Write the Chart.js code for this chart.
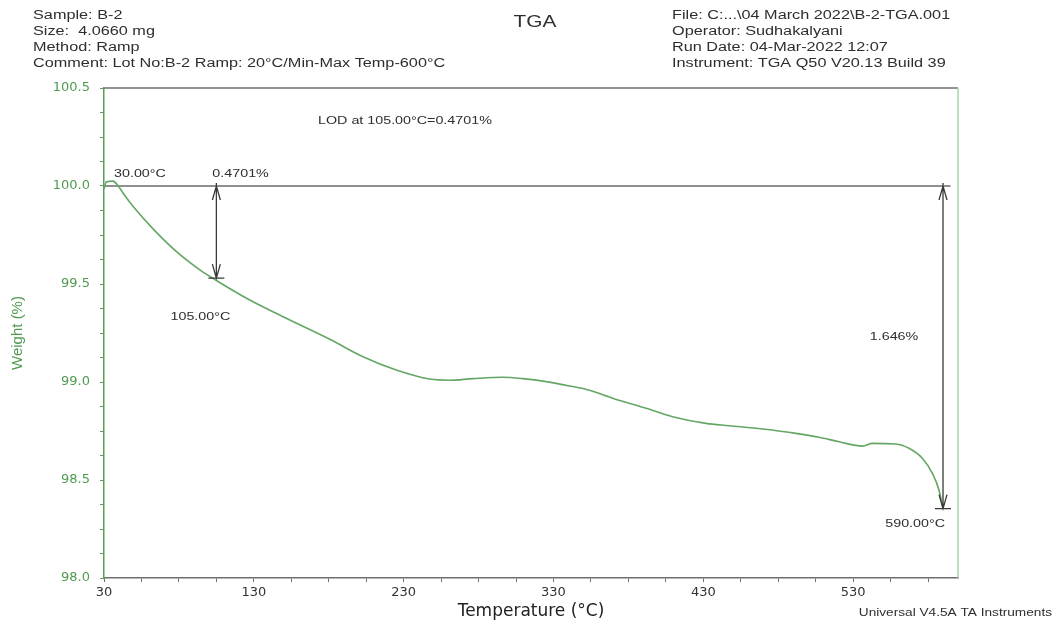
<!DOCTYPE html>
<html>
<head>
<meta charset="utf-8">
<script src="https://cdn.jsdelivr.net/npm/chart.js@4.4.1/dist/chart.umd.min.js"></script>
<style>
html, body { margin: 0; padding: 0; background: #fff; }
</style>
</head>
<body>
<canvas id="tga-chart" width="1056" height="626"></canvas>
<script>
// TGA curve (temperature in °C, weight in %)
var tempList = [30, 31.5, 36, 39, 43.5, 49.6, 62.9, 78.4, 94, 105, 127.3, 149.5, 180.7, 202.9, 225.1, 247.3, 260.7, 276.2, 296.2, 309.6, 325.1, 340.7, 354, 369.5, 391.8, 409.5, 431.8, 447.3, 469.5, 491.8, 507.3, 520.7, 536.2, 542.9, 558.4, 567.3, 576.2, 582.9, 587.3, 590];
var weightList = [99.985, 100.02, 100.025, 100.005, 99.955, 99.894, 99.78, 99.665, 99.572, 99.518, 99.418, 99.333, 99.218, 99.129, 99.061, 99.015, 99.009, 99.017, 99.024, 99.017, 99.002, 98.980, 98.958, 98.917, 98.866, 98.823, 98.789, 98.777, 98.760, 98.738, 98.718, 98.695, 98.673, 98.687, 98.684, 98.662, 98.611, 98.534, 98.449, 98.354];

// 100 % reference line
var refTemp = [30, 595];
var refWeight = [100, 100];

// weight loss steps
var stepTemps = [105, 590];
var stepFrom = [100.0, 100.0];
var stepLoss = [0.4701, 1.646];

// axes
var xMin = 30, xMax = 600, xMinorStep = 25;
var xMajor = [30, 130, 230, 330, 430, 530];
var yMin = 98.0, yMax = 100.5, yMinorStep = 0.125;
var yMajor = [98.0, 98.5, 99.0, 99.5, 100.0, 100.5];

var headerLeft = ['Sample: B-2', 'Size:  4.0660 mg', 'Method: Ramp', 'Comment: Lot No:B-2 Ramp: 20°C/Min-Max Temp-600°C'];
var headerRight = ['File: C:...\\04 March 2022\\B-2-TGA.001', 'Operator: Sudhakalyani', 'Run Date: 04-Mar-2022 12:07', 'Instrument: TGA Q50 V20.13 Build 39'];

var green = '#5b9c5b';
var textCol = '#2e2e2e';

var xTickValues = [];
for (var t = xMin; t < xMax; t += xMinorStep) xTickValues.push(t);
var yTickValues = [];
for (var w = yMin; w <= yMax + 1e-9; w += yMinorStep) yTickValues.push(Math.round(w * 1000) / 1000);

// the original print is stretched sideways, so the text is too
function drawText(ctx, str, x, y, size, align, color) {
	var stretch = 1.3;
	ctx.save();
	ctx.font = size + 'px "Liberation Sans", Arial, sans-serif';
	ctx.fillStyle = color || textCol;
	ctx.textBaseline = 'middle';
	ctx.textAlign = 'left';
	var w = ctx.measureText(str).width * stretch;
	var left = x;
	if (align === 'center') left = x - w / 2;
	if (align === 'right') left = x - w;
	ctx.translate(left, y);
	ctx.scale(stretch, 1);
	ctx.fillText(str, 0, 0);
	ctx.restore();
}

function drawArrow(ctx, x, yTop, yBot) {
	ctx.beginPath();
	ctx.moveTo(x, yTop);
	ctx.lineTo(x, yBot);
	// heads
	ctx.moveTo(x - 4, yTop + 14); ctx.lineTo(x, yTop); ctx.lineTo(x + 4, yTop + 14);
	ctx.moveTo(x - 4, yBot - 14); ctx.lineTo(x, yBot); ctx.lineTo(x + 4, yBot - 14);
	// bars at both ends
	ctx.moveTo(x - 8, yBot); ctx.lineTo(x + 8, yBot);
	ctx.moveTo(x, yTop - 3); ctx.lineTo(x, yTop);
	ctx.stroke();
}

var annotations = {
	id: 'annotations',
	afterDatasetsDraw: function(chart) {
		var ctx = chart.ctx;
		var area = chart.chartArea;
		var xs = chart.scales.x, ys = chart.scales.y;

		// frame: top and right
		ctx.save();
		ctx.lineWidth = 1.5;
		ctx.strokeStyle = '#707070';
		ctx.beginPath();
		ctx.moveTo(area.left, area.top);
		ctx.lineTo(area.right, area.top);
		ctx.stroke();
		ctx.strokeStyle = '#a9d4a9';
		ctx.beginPath();
		ctx.moveTo(area.right, area.top);
		ctx.lineTo(area.right, area.bottom);
		ctx.stroke();

		// step arrows
		ctx.strokeStyle = '#3a3a3a';
		ctx.lineWidth = 1.3;
		for (var i = 0; i < stepTemps.length; i++) {
			var px = xs.getPixelForValue(stepTemps[i]);
			var yTop = ys.getPixelForValue(stepFrom[i]);
			var yBot = ys.getPixelForValue(stepFrom[i] - stepLoss[i]);
			drawArrow(ctx, px, yTop, yBot);
		}
		ctx.restore();

		// labels
		var x0 = xs.getPixelForValue(tempList[0]);
		var yRef = ys.getPixelForValue(refWeight[0]);
		drawText(ctx, tempList[0].toFixed(2) + '°C', x0 + 10, yRef - 12, 11);

		var a1 = xs.getPixelForValue(stepTemps[0]);
		var b1 = ys.getPixelForValue(stepFrom[0] - stepLoss[0]);
		drawText(ctx, stepLoss[0].toFixed(4) + '%', a1 - 4, yRef - 12, 11);
		drawText(ctx, stepTemps[0].toFixed(2) + '°C', a1 - 16, b1 + 39, 11, 'center');

		var a2 = xs.getPixelForValue(stepTemps[1]);
		var b2 = ys.getPixelForValue(stepFrom[1] - stepLoss[1]);
		drawText(ctx, stepLoss[1].toFixed(3) + '%', a2 - 49, ys.getPixelForValue(99.23), 11, 'center');
		drawText(ctx, stepTemps[1].toFixed(2) + '°C', a2 + 2, b2 + 15, 11, 'right');

		drawText(ctx, 'LOD at ' + stepTemps[0].toFixed(2) + '°C=' + stepLoss[0].toFixed(4) + '%', 318, 121, 11);

		// header
		drawText(ctx, 'TGA', 535, 23, 16, 'center');
		for (var j = 0; j < headerLeft.length; j++) {
			drawText(ctx, headerLeft[j], 33, 16 + j * 16, 12.5);
			drawText(ctx, headerRight[j], 672, 16 + j * 16, 12.5);
		}
		drawText(ctx, 'Universal V4.5A TA Instruments', 1052, 613, 10.5, 'right');
	}
};

var ctx = document.getElementById('tga-chart').getContext('2d');
var tgaChart = new Chart(ctx, {
	type: 'line',
	data: {
		datasets: [
			{
				label: 'Weight',
				data: tempList.map(function(t, i) { return { x: t, y: weightList[i] }; }),
				borderColor: '#64a664',
				borderWidth: 1.6,
				pointRadius: 0,
				cubicInterpolationMode: 'monotone',
				fill: false
			},
			{
				label: '100%',
				data: refTemp.map(function(t, i) { return { x: t, y: refWeight[i] }; }),
				borderColor: '#6a6a6a',
				borderWidth: 1.5,
				pointRadius: 0,
				fill: false
			}
		]
	},
	options: {
		responsive: false,
		animation: false,
		layout: { padding: { top: 88, right: 98, left: 0, bottom: 0 } },
		plugins: {
			legend: { display: false },
			tooltip: { enabled: false }
		},
		scales: {
			x: {
				type: 'linear',
				min: xMin,
				max: xMax,
				afterBuildTicks: function(scale) {
					scale.ticks = xTickValues.map(function(v) { return { value: v }; });
				},
				afterFit: function(scale) { scale.height = 48; },
				border: { color: '#6e6e6e', width: 1.5 },
				grid: { drawOnChartArea: false, drawTicks: true, tickLength: 4, color: '#6e6e6e' },
				ticks: {
					autoSkip: false,
					maxRotation: 0,
					padding: 3,
					color: '#333',
					font: { family: '"DejaVu Sans"', size: 13 },
					callback: function(value) {
						return xMajor.indexOf(value) >= 0 ? String(value) : '';
					}
				},
				title: {
					display: true,
					text: 'Temperature (°C)',
					color: '#222',
					font: { family: '"DejaVu Sans"', size: 17 },
					padding: { top: 0, bottom: 4 }
				}
			},
			y: {
				type: 'linear',
				min: yMin,
				max: yMax,
				afterBuildTicks: function(scale) {
					scale.ticks = yTickValues.map(function(v) { return { value: v }; });
				},
				afterFit: function(scale) { scale.width = 104; },
				border: { color: green, width: 1.5 },
				grid: { drawOnChartArea: false, drawTicks: true, tickLength: 4, color: green },
				ticks: {
					autoSkip: false,
					padding: 10,
					color: '#4f9a4f',
					font: { family: '"DejaVu Sans"', size: 13 },
					callback: function(value) {
						for (var k = 0; k < yMajor.length; k++) {
							if (Math.abs(yMajor[k] - value) < 1e-6) return value.toFixed(1);
						}
						return '';
					}
				},
				title: {
					display: true,
					text: 'Weight (%)',
					color: '#4f9a4f',
					font: { family: '"Liberation Sans"', size: 15 },
					padding: { top: 9, bottom: 0 }
				}
			}
		}
	},
	plugins: [annotations]
});
</script>
</body>
</html>
